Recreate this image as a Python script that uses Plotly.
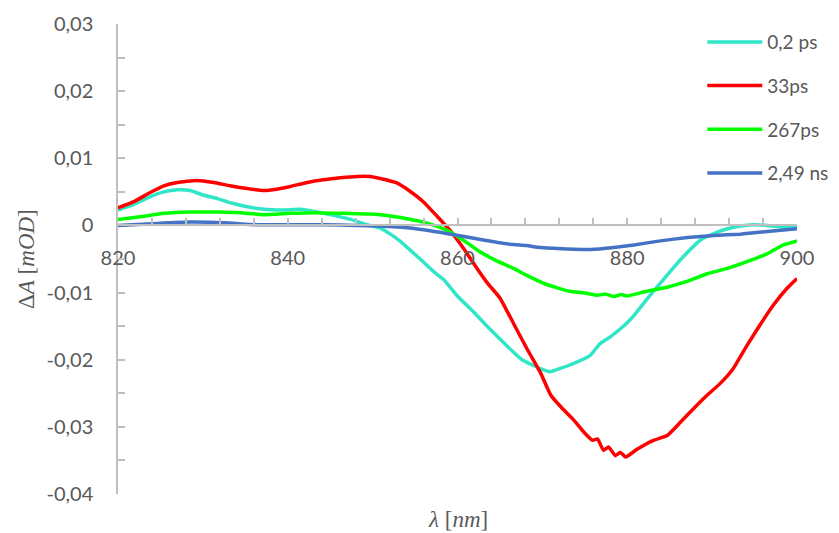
import plotly.graph_objects as go

# ---- data ----
wl_red = [820, 821.8, 823.8, 825.4, 827, 829.3, 831.3, 833.2, 835.2, 837.2, 838.7, 840.3, 842.3, 844.2,
          846.2, 848.2, 849.7, 850.9, 852.7, 854.4, 856, 857.5, 859.1, 860.7, 862.3, 863.6, 865, 866.6, 868.2,
          869.8, 871, 872.3, 873.7, 874.9, 875.9, 876.5, 877.2, 877.8, 878.6, 879.2, 879.8, 881.2, 883.1,
          884.7, 886.2, 887.8, 889.4, 890.9, 892.5, 894.1, 895.6, 897.2, 898.8, 900]
v_red = [0.0026, 0.0035, 0.0049, 0.0059, 0.0064, 0.0067, 0.0064, 0.0059, 0.0055, 0.0052, 0.0054, 0.0058,
         0.0064, 0.0068, 0.0071, 0.0073, 0.0073, 0.0070, 0.0064, 0.0051, 0.0035, 0.0015, -0.0007, -0.0034,
         -0.0064, -0.0087, -0.0108, -0.0146, -0.0184, -0.0220, -0.0253, -0.0272, -0.0290, -0.0308, -0.0320,
         -0.0318, -0.0335, -0.0330, -0.0343, -0.0338, -0.0345, -0.0333, -0.0320, -0.0313, -0.0294, -0.0273,
         -0.0253, -0.0236, -0.0213, -0.0179, -0.0149, -0.0119, -0.0094, -0.0079]

wl_cyan = [820, 821.8, 823.8, 825.4, 827, 828.5, 830.1, 831.7, 833.2, 834.8, 837.2, 839.5, 841.5, 843.4,
           845.4, 847.4, 849.3, 850.9, 852.1, 853.3, 855.5, 857.3, 858.4, 859.9, 861.9, 863.4, 865, 866.6,
           867.6, 869.7, 870.9, 872.1, 873.6, 875.6, 876.8, 878, 879.9, 880.8, 882.3, 883.9, 885.5, 887.1,
           888.6, 890.2, 891.8, 893.3, 894.9, 896.5, 898, 900]
v_cyan = [0.0023, 0.0031, 0.0043, 0.0050, 0.0053, 0.0052, 0.0045, 0.0040, 0.0034, 0.0029, 0.0024, 0.0023,
          0.0024, 0.0020, 0.0015, 0.0009, 0.0001, -0.0004, -0.0013, -0.0024, -0.0049, -0.0070, -0.0081,
          -0.0104, -0.0129, -0.0149, -0.0169, -0.0189, -0.0200, -0.0213, -0.0218, -0.0213, -0.0206, -0.0194,
          -0.0176, -0.0166, -0.0146, -0.0134, -0.0110, -0.0086, -0.0062, -0.0040, -0.0022, -0.0012, -0.0005,
          -0.0001, 0.0001, 0.0000, -0.0002, -0.0003]

wl_green = [820, 822.6, 825.4, 828.5, 831.7, 834.4, 837.2, 840.3, 843.4, 846.6, 849.7, 851.5, 854.8, 856.8,
            858.7, 860.7, 862.6, 864.5, 866.6, 868.1, 870.5, 873.2, 875.2, 876.5, 877.4, 878.4, 879.3, 880,
            882.3, 884.7, 887.1, 889.4, 891.8, 894.1, 896.5, 898.4, 900]
v_green = [0.0009, 0.0013, 0.0018, 0.0020, 0.0020, 0.0019, 0.0016, 0.0018, 0.0019, 0.0018, 0.0017, 0.0015,
           0.0008, 0.0002, -0.0007, -0.0022, -0.0039, -0.0052, -0.0064, -0.0074, -0.0088, -0.0098, -0.0101,
           -0.0104, -0.0102, -0.0106, -0.0103, -0.0105, -0.0098, -0.0092, -0.0083, -0.0072, -0.0064, -0.0054,
           -0.0042, -0.0029, -0.0023]

wl_blue = [820, 824.6, 828.5, 832.5, 836.4, 840.3, 844.2, 848.2, 850.9, 854.4, 858.7, 863.2, 866.2,
           868.1, 869.8, 872.9, 875.7, 878.4, 880.8, 883.9, 887.1, 890.2, 893.3, 896.5, 900]
v_blue = [0.0000, 0.0003, 0.0005, 0.0004, 0.0001, 0.0001, 0.0001, 0.0000, -0.0001, -0.0004, -0.0012,
          -0.0022, -0.0028, -0.0030, -0.0033, -0.0035, -0.0036, -0.0033, -0.0029, -0.0023, -0.0018, -0.0015,
          -0.0013, -0.0009, -0.0005]

series_names = ["0,2 ps", "33ps", "267ps", "2,49 ns"]
series_colors = ["#2FE6C8", "#FF0000", "#00FF00", "#4472C4"]

x_ticks = [820, 840, 860, 880, 900]
y_ticks = [0.03, 0.02, 0.01, 0, -0.01, -0.02, -0.03, -0.04]
y_ticktext = ["0,03", "0,02", "0,01", "0", "-0,01", "-0,02", "-0,03", "-0,04"]

x_range = [820, 900]
y_range = [-0.04, 0.03]

FONT = "Lato"
GREY = "#595959"
AXIS = "#BFBFBF"

fig = go.Figure()
for i, (xs, ys) in enumerate([(wl_cyan, v_cyan), (wl_red, v_red), (wl_green, v_green), (wl_blue, v_blue)]):
    fig.add_trace(go.Scatter(x=xs, y=ys, mode="lines", name=series_names[i],
                             legendgroup=f"g{i}",
                             line=dict(color=series_colors[i], width=3.5, shape="spline", smoothing=0.4)))

zero_pos = (0 - y_range[0]) / (y_range[1] - y_range[0])

fig.update_layout(
    width=831, height=525,
    margin=dict(l=110, r=42, t=16, b=39, autoexpand=False),
    paper_bgcolor="white", plot_bgcolor="white",
    font=dict(family=FONT, size=20, color=GREY),
    showlegend=True,
    legend=dict(x=0.8605, y=1.002, xanchor="left", yanchor="top",
                font=dict(family=FONT, size=19, color=GREY),
                traceorder="grouped", tracegroupgap=16, itemwidth=55,
                bgcolor="rgba(0,0,0,0)"),
    xaxis=dict(range=x_range, tickvals=x_ticks, ticktext=[str(v) for v in x_ticks],
               anchor="free", position=zero_pos, showgrid=False, zeroline=False, automargin=False,
               showline=True, linecolor=AXIS, linewidth=1.5,
               ticks="inside", ticklen=7, tickcolor=AXIS, tickwidth=1.5,
               ticklabelstandoff=15,
               minor=dict(dtick=4, tick0=820, ticks="inside", ticklen=7, tickcolor=AXIS, tickwidth=1.5,
                          showgrid=False),
               tickfont=dict(family=FONT, size=20, color=GREY)),
    yaxis=dict(range=y_range, tickvals=y_ticks, ticktext=y_ticktext,
               showgrid=False, zeroline=False, automargin=False,
               showline=True, linecolor=AXIS, linewidth=1.5,
               ticks="inside", ticklen=7, tickcolor=AXIS, tickwidth=1.5,
               ticklabelstandoff=19,
               minor=dict(dtick=0.005, tick0=0, ticks="inside", ticklen=7, tickcolor=AXIS, tickwidth=1.5,
                          showgrid=False),
               tickfont=dict(family=FONT, size=20, color=GREY)),
    annotations=[
        dict(text="Δ<i>A</i> [<i>mOD</i>]", xref="paper", yref="paper", x=0, y=0.5,
             xanchor="center", yanchor="middle", xshift=-92, textangle=-90, showarrow=False,
             font=dict(family="Liberation Serif", size=23, color=GREY)),
        dict(text="<i>λ</i> [<i>nm</i>]", xref="paper", yref="paper", x=0.5, y=0,
             xanchor="center", yanchor="bottom", yshift=-39, borderpad=0, showarrow=False,
             font=dict(family="Liberation Serif", size=23, color=GREY)),
    ],
)

fig.write_html("out.html")
